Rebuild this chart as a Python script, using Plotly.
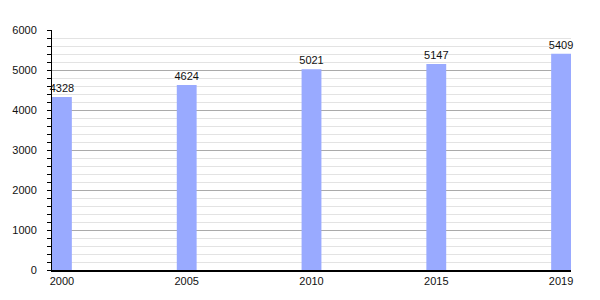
import plotly.graph_objects as go

years = ["2000", "2005", "2010", "2015", "2019"]
population = [4328, 4624, 5021, 5147, 5409]

w = 0.159
fig = go.Figure()
fig.add_trace(go.Bar(
    x=years, y=population, width=w,
    marker=dict(color="#99aaff", line=dict(width=0)),
    text=[str(v) for v in population], textposition="outside",
    constraintext="none",
    textfont=dict(family="Liberation Sans, Arial", size=11, color="#111"),
    cliponaxis=False,
))
fig.update_layout(
    width=600, height=300,
    margin=dict(l=50, r=29, t=30, b=30),
    plot_bgcolor="white", paper_bgcolor="white",
    showlegend=False,
    font=dict(family="Liberation Sans, Arial", size=11, color="#111"),
    xaxis=dict(type="category", range=[-w / 2, 4 + w / 2], showgrid=False,
               showline=True, linecolor="black", linewidth=1.5,
               ticks="", tickfont=dict(size=11), fixedrange=True),
    yaxis=dict(range=[0, 6000], dtick=1000, showgrid=True, gridcolor="#aaaaaa",
               gridwidth=1, showline=True, linecolor="black", linewidth=1,
               ticks="outside", ticklen=4, tickcolor="black", zeroline=False,
               tickfont=dict(size=11), ticklabelstandoff=8,
               minor=dict(dtick=200, showgrid=True, gridcolor="#e3e3e3",
                          ticks="outside", ticklen=4, tickcolor="black")),
)
fig.write_html("out.html")
